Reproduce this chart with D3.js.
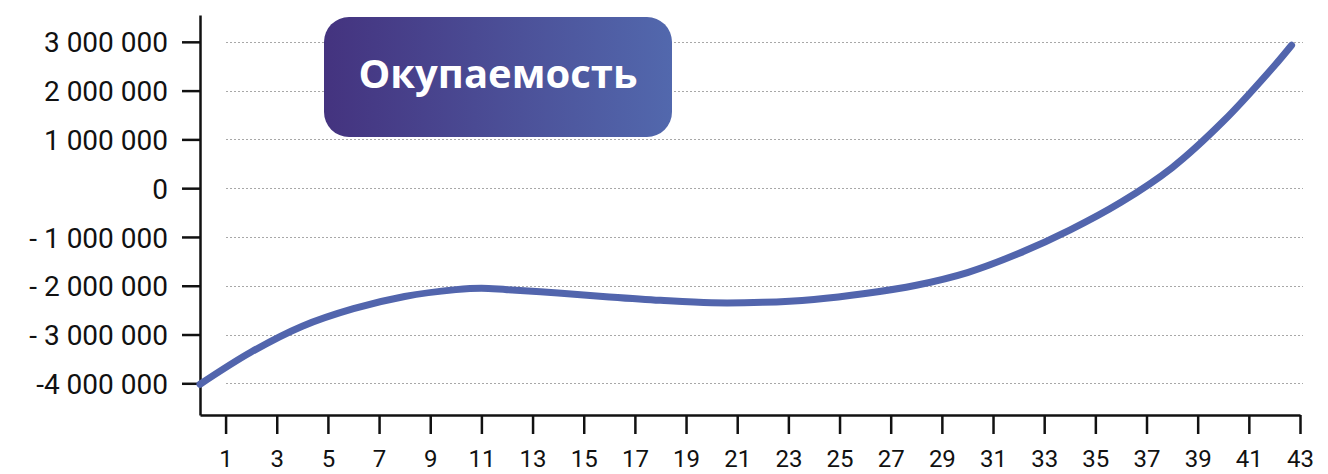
<!DOCTYPE html>
<html>
<head>
<meta charset="utf-8">
<script src="https://cdn.jsdelivr.net/npm/d3@7"></script>
<style>
  body { margin: 0; background: #fff; }
  svg text { font-family: Roboto, "Open Sans", sans-serif; fill: #111; }
</style>
</head>
<body>
<svg id="chart" width="1328" height="474"></svg>
<script>
// months and cumulative balance (rub)
const months = [0, 2, 4, 6, 8, 10, 11, 12, 14, 16, 18, 20, 22, 24, 26, 28, 30, 32, 34, 36, 38, 40, 42, 42.67];
const balance = [-4020000, -3360000, -2830000, -2470000, -2220000, -2080000, -2050000, -2080000, -2150000, -2230000, -2300000, -2350000, -2340000, -2280000, -2160000, -1990000, -1730000, -1340000, -860000, -290000, 420000, 1370000, 2510000, 2930000];

const yTicks = [3000000, 2000000, 1000000, 0, -1000000, -2000000, -3000000, -4000000];
const yTickLabels = ["3 000 000", "2 000 000", "1 000 000", "0", "- 1 000 000", "- 2 000 000", "- 3 000 000", "-4 000 000"];
const xTicks = d3.range(1, 44, 2);
const title = "Окупаемость";

let svg = d3.select("#chart"),
    lineColor = "#5265ad",
    axisColor = "#111";

let x = d3.scaleLinear().domain([0, 43]).range([200, 1300]),
    y = d3.scaleLinear().domain([-4650000, 3550000]).range([415, 15]);

// gridlines
svg.append("g")
   .selectAll("line")
   .data(yTicks)
   .enter()
   .append("line")
   .attr("x1", 226)
   .attr("x2", 1303)
   .attr("y1", d => Math.round(y(d)) + 0.5)
   .attr("y2", d => Math.round(y(d)) + 0.5)
   .attr("stroke", "#a8a8a8")
   .attr("stroke-width", 1)
   .attr("stroke-dasharray", "2,2");

// y axis
let yAxis = svg.append("g")
   .attr("transform", "translate(200,0)")
   .call(d3.axisLeft(y)
           .tickValues(yTicks)
           .tickFormat((d, i) => yTickLabels[i])
           .tickSize(18)
           .tickSizeOuter(0)
           .tickPadding(14));

yAxis.selectAll("text").style("font-size", "28px").attr("dy", "0.36em");

// x axis
let xAxis = svg.append("g")
   .attr("transform", "translate(0,415)")
   .call(d3.axisBottom(x)
           .tickValues(xTicks)
           .tickFormat(d3.format("d"))
           .tickSize(19)
           .tickSizeOuter(0)
           .tickPadding(17));

xAxis.selectAll("text").style("font-size", "24px").attr("dy", "0.68em");

svg.selectAll(".domain, .tick line")
   .attr("stroke", axisColor)
   .attr("stroke-width", 2.5);

// curve
let line = d3.line()
   .x((d, i) => x(months[i]))
   .y(d => y(d))
   .curve(d3.curveCatmullRom);

svg.append("path")
   .datum(balance)
   .attr("d", line)
   .attr("fill", "none")
   .attr("stroke", lineColor)
   .attr("stroke-width", 7)
   .attr("stroke-linecap", "round");

// title box
let defs = svg.append("defs");
let grad = defs.append("linearGradient").attr("id", "titleGrad");
grad.append("stop").attr("offset", "0%").attr("stop-color", "#44337f");
grad.append("stop").attr("offset", "100%").attr("stop-color", "#5268ad");

svg.append("rect")
   .attr("x", 324)
   .attr("y", 17)
   .attr("width", 348)
   .attr("height", 120)
   .attr("rx", 25)
   .attr("fill", "url(#titleGrad)");

svg.append("text")
   .attr("x", 498)
   .attr("y", 88)
   .attr("text-anchor", "middle")
   .style("font-family", "'Open Sans', sans-serif")
   .style("font-weight", "bold")
   .style("font-size", "40px")
   .style("fill", "#fff")
   .text(title);
</script>
</body>
</html>
